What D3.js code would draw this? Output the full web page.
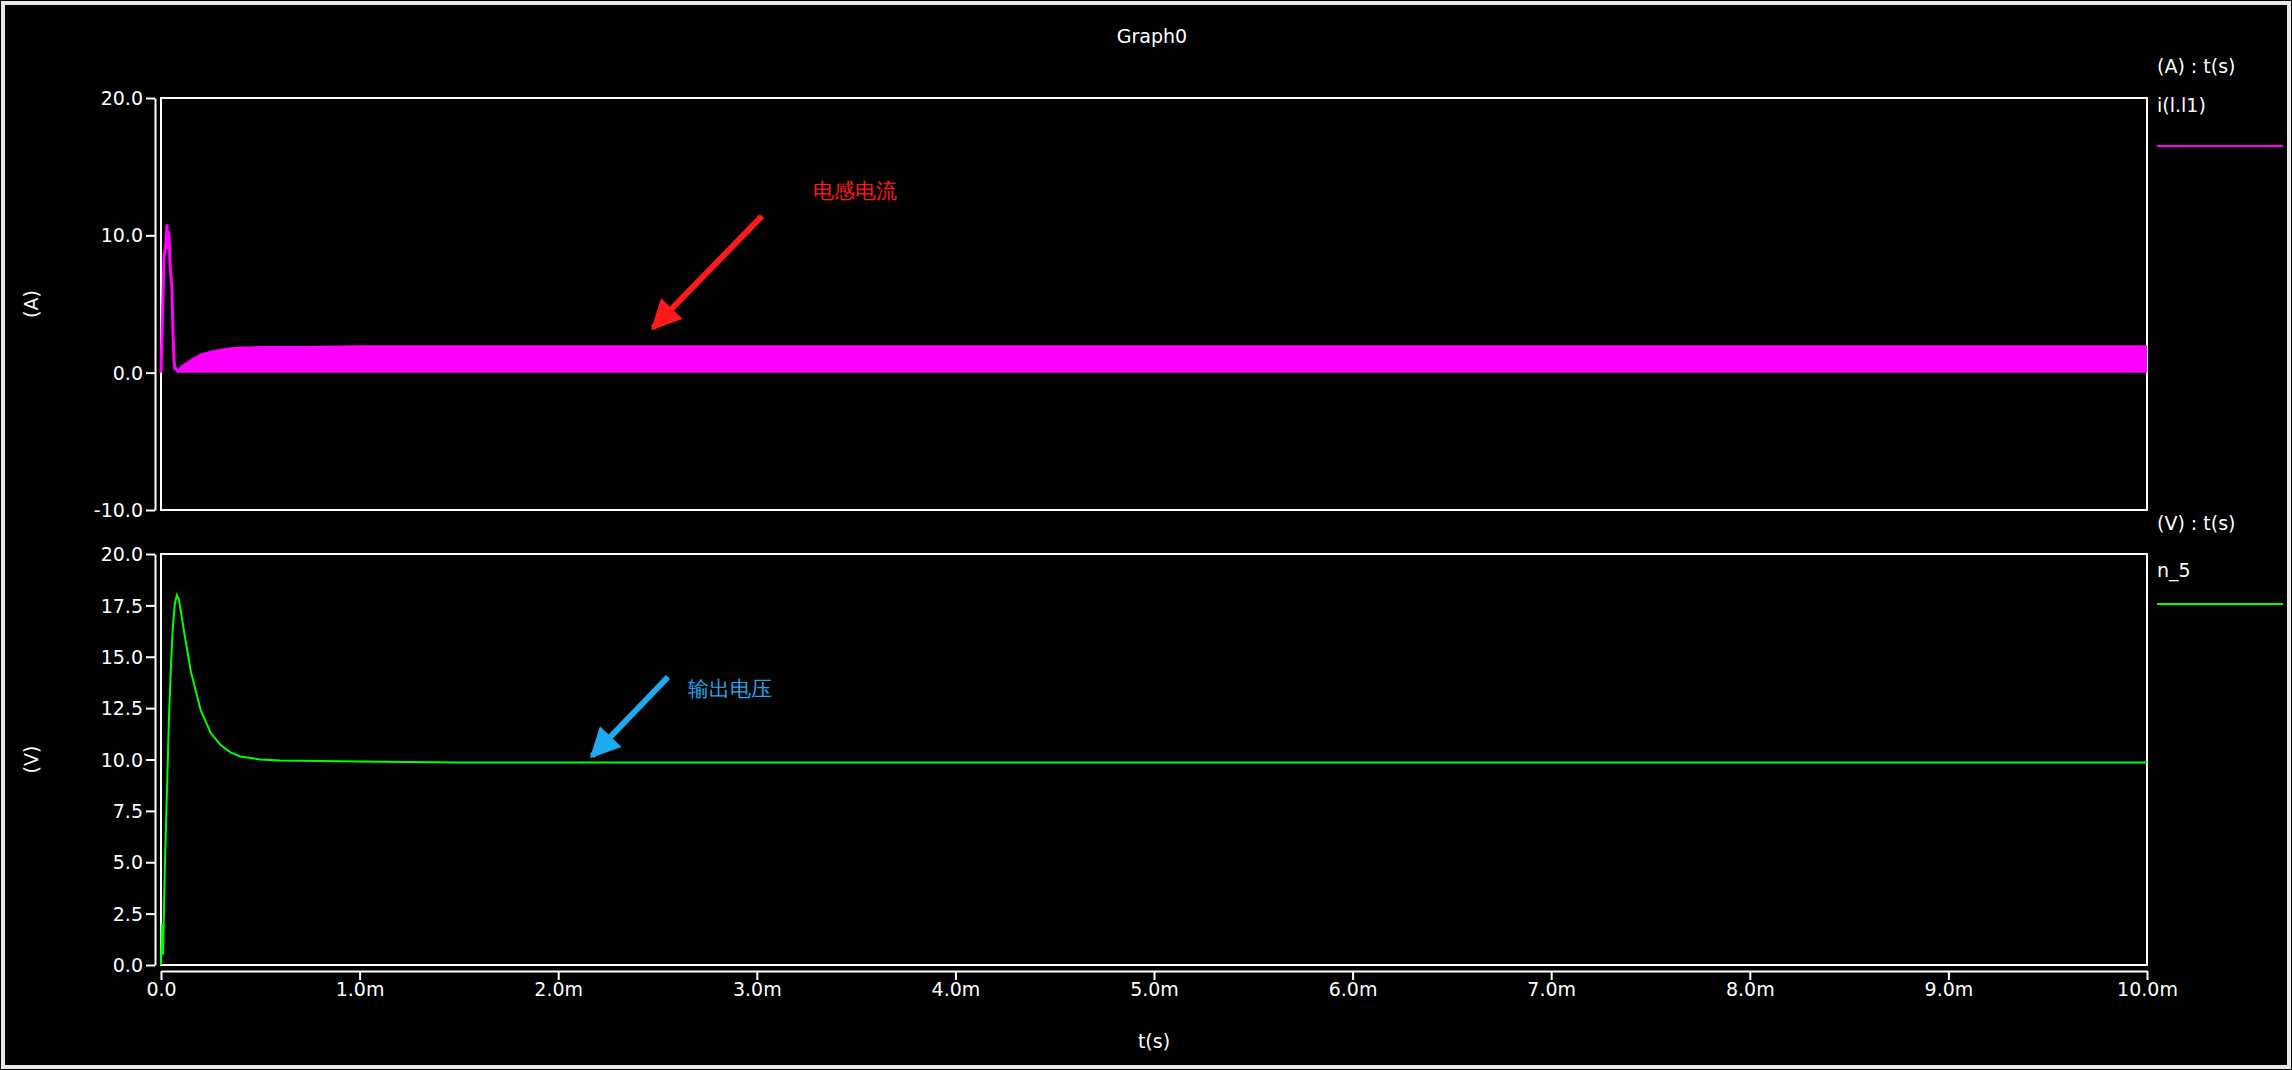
<!DOCTYPE html><html><head><meta charset="utf-8"><script src="https://cdn.jsdelivr.net/npm/d3@7"></script>
<style>body{margin:0;background:#000}svg{display:block}text{font-family:"DejaVu Sans",sans-serif;fill:#fff}</style></head><body><script>
const spikeT=[0,0.005,0.01,0.015,0.02,0.025,0.03,0.035,0.04,0.045,0.05,0.055,0.06,0.065,0.07,0.075,0.08,0.085,0.09];
const spikeI=[0,2.6,5.5,8.5,8.8,9.5,10.8,9.0,10.3,8.0,7.0,6.2,3.0,1.0,0.3,0.3,0.2,0.1,0];
const bandT=[0.09,0.1,0.15,0.2,0.25,0.3,0.35,0.4,0.45,0.5,0.7,1.0,10];
const bandTop=[0.3,0.5,1.0,1.4,1.6,1.75,1.85,1.9,1.9,1.95,1.95,2.0,2.0];
const vT=[0,0.005,0.01,0.02,0.03,0.04,0.05,0.06,0.07,0.08,0.09,0.1,0.12,0.15,0.2,0.25,0.3,0.35,0.4,0.5,0.6,1,1.5,2,3,4,5,6,7,8,9,10];
const vV=[0,2,0.5,5,8.5,12,14.5,16.5,17.6,18,17.8,17.2,16,14.3,12.4,11.3,10.7,10.35,10.15,10.0,9.95,9.9,9.85,9.85,9.85,9.85,9.85,9.85,9.85,9.85,9.85,9.85];
const xTicks=[0,1,2,3,4,5,6,7,8,9,10];
const yTicksA=[20,10,0,-10];
const yTicksV=[0,2.5,5,7.5,10,12.5,15,17.5,20];
const W=2292,H=1070;
const svg=d3.select("body").append("svg").attr("width",W).attr("height",H);
svg.append("rect").attr("x",3).attr("y",3).attr("width",W-6).attr("height",H-6).attr("fill","#000").attr("stroke","#e8e8e8").attr("stroke-width",4);
const L=161,R=2147,fs=19;
const x=d3.scaleLinear().domain([0,10]).range([L,R]);
const yA=d3.scaleLinear().domain([-10,20]).range([510,98]);
const yV=d3.scaleLinear().domain([0,20]).range([965,554]);
svg.append("text").attr("x",1152).attr("y",43).attr("text-anchor","middle").attr("font-size",fs).text("Graph0");
function panel(y,ticks,unit){
 const [b,t]=y.range();
 svg.append("rect").attr("x",L).attr("y",t).attr("width",R-L).attr("height",b-t).attr("fill","none").attr("stroke","#fff").attr("stroke-width",2);
 const ax=svg.append("g").attr("transform",`translate(155,0)`).call(d3.axisLeft(y).tickValues(ticks).tickFormat(d=>d.toFixed(1)).tickSize(9).tickSizeOuter(0));
 ax.selectAll("path,line").attr("stroke","#fff").attr("stroke-width",2);
 ax.selectAll("text").attr("font-size",fs).attr("fill","#fff").attr("font-family","DejaVu Sans").attr("dy","0.35em");
 svg.append("text").attr("transform",`translate(38,${(b+t)/2}) rotate(-90)`).attr("text-anchor","middle").attr("font-size",fs).text(unit);
}
panel(yA,yTicksA,"(A)");panel(yV,yTicksV,"(V)");
const xa=svg.append("g").attr("transform","translate(0,971)").call(d3.axisBottom(x).tickValues(xTicks).tickFormat(d=>d===0?"0.0":d.toFixed(1)+"m").tickSize(9).tickSizeOuter(0));
xa.selectAll("path,line").attr("stroke","#fff").attr("stroke-width",2);
xa.selectAll("text").attr("font-size",fs).attr("fill","#fff").attr("font-family","DejaVu Sans");
svg.append("text").attr("x",(L+R)/2).attr("y",1048).attr("text-anchor","middle").attr("font-size",fs).text("t(s)");
const mag="#ff00ff";
svg.append("path").datum(bandT.map((t,i)=>[t,bandTop[i]])).attr("fill",mag)
 .attr("d",d3.area().x(d=>x(d[0])).y0(yA(0)).y1(d=>yA(d[1])));
svg.append("path").datum(spikeT.map((t,i)=>[t,spikeI[i]])).attr("fill","none").attr("stroke",mag).attr("stroke-width",3)
 .attr("d",d3.line().x(d=>x(d[0])).y(d=>yA(d[1])));
svg.append("path").datum(vT.map((t,i)=>[t,vV[i]])).attr("fill","none").attr("stroke","#00ff00").attr("stroke-width",2)
 .attr("d",d3.line().x(d=>x(d[0])).y(d=>yV(d[1])));
[["(A) : t(s)",73],["i(l.l1)",112],["(V) : t(s)",530],["n_5",577]].forEach(([s,yy])=>svg.append("text").attr("x",2157).attr("y",yy).attr("font-size",fs).text(s));
svg.append("line").attr("x1",2157).attr("x2",2283).attr("y1",146).attr("y2",146).attr("stroke",mag).attr("stroke-width",2);
svg.append("line").attr("x1",2157).attr("x2",2283).attr("y1",604).attr("y2",604).attr("stroke","#00ff00").attr("stroke-width",2);
const defs=svg.append("defs");
function arrow(id,c,x1,y1,x2,y2){
 defs.append("marker").attr("id",id).attr("viewBox","0 0 10 10").attr("refX",9).attr("refY",5).attr("markerWidth",6).attr("markerHeight",5).attr("orient","auto")
  .append("path").attr("d","M0,0L10,5L0,10Z").attr("fill",c);
 svg.append("line").attr("x1",x1).attr("y1",y1).attr("x2",x2).attr("y2",y2).attr("stroke",c).attr("stroke-width",6).attr("marker-end",`url(#${id})`);
}
arrow("ar","#ff1a1a",762,216,653,328);
arrow("ab","#1eaaf0",668,677,592,756);
svg.append("text").attr("x",813).attr("y",198).attr("font-size",21).attr("font-family","Noto Sans CJK SC").style("fill","#ff1a1a").text("电感电流");
svg.append("text").attr("x",688).attr("y",696).attr("font-size",21).attr("font-family","Noto Sans CJK SC").style("fill","#1eaaf0").text("输出电压");
</script></body></html>
